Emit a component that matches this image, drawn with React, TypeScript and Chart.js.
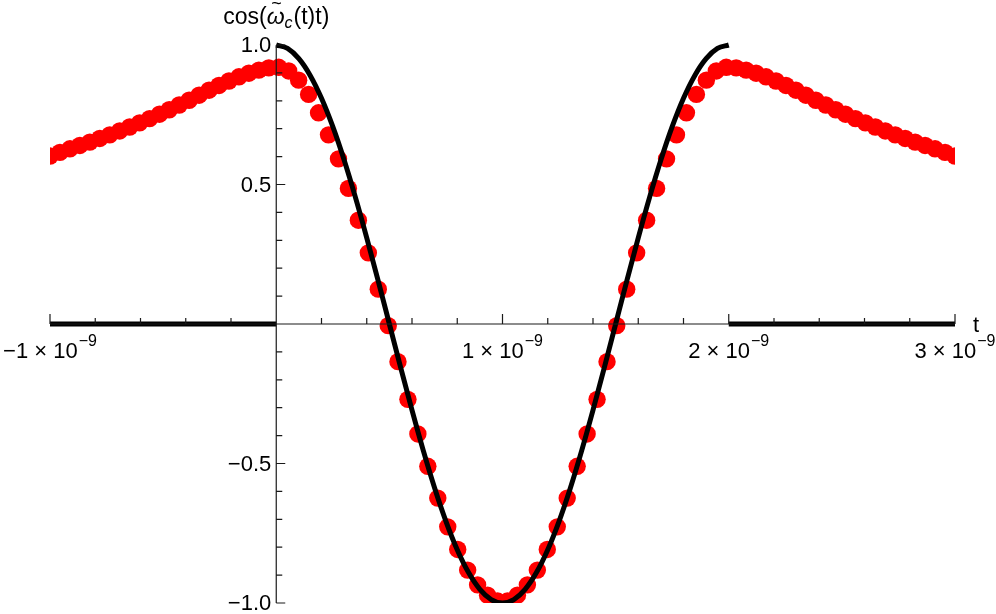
import { useEffect, useRef } from "react";
import { Chart, registerables } from "chart.js";
Chart.register(...registerables);

// time axis in units of 1e-9
const redT = [
  -1.0, -0.956, -0.912, -0.868, -0.824, -0.78, -0.736, -0.692, -0.648, -0.604,
  -0.56, -0.516, -0.473, -0.429, -0.385, -0.341, -0.297, -0.253, -0.209, -0.165,
  -0.121, -0.077, -0.033, 0.011, 0.055, 0.099, 0.143, 0.187, 0.231, 0.275,
  0.319, 0.363, 0.407, 0.451, 0.495, 0.538, 0.582, 0.626, 0.67, 0.714,
  0.758, 0.802, 0.846, 0.89, 0.934, 0.978, 1.022, 1.066, 1.11, 1.154,
  1.198, 1.242, 1.286, 1.33, 1.374, 1.418, 1.462, 1.505, 1.549, 1.593,
  1.637, 1.681, 1.725, 1.769, 1.813, 1.857, 1.901, 1.945, 1.989, 2.033,
  2.077, 2.121, 2.165, 2.209, 2.253, 2.297, 2.341, 2.385, 2.429, 2.473,
  2.516, 2.56, 2.604, 2.648, 2.692, 2.736, 2.78, 2.824, 2.868, 2.912,
  2.956, 3.0,
];
const redV = [
  0.602, 0.615, 0.628, 0.64, 0.652, 0.665, 0.678, 0.692, 0.706, 0.721,
  0.736, 0.752, 0.768, 0.785, 0.802, 0.82, 0.838, 0.855, 0.871, 0.886,
  0.899, 0.91, 0.918, 0.92, 0.907, 0.874, 0.823, 0.757, 0.678, 0.592,
  0.486, 0.372, 0.255, 0.125, -0.006, -0.135, -0.27, -0.394, -0.51, -0.624,
  -0.727, -0.808, -0.882, -0.935, -0.972, -0.993,
  -0.993, -0.972, -0.935, -0.882, -0.808, -0.727, -0.624, -0.51, -0.394, -0.27,
  -0.135, -0.006, 0.125, 0.255, 0.372, 0.486, 0.592, 0.678, 0.757, 0.823,
  0.874, 0.907, 0.92, 0.918, 0.91, 0.899, 0.886, 0.871, 0.855, 0.838,
  0.82, 0.802, 0.785, 0.768, 0.752, 0.736, 0.721, 0.706, 0.692, 0.678,
  0.665, 0.652, 0.64, 0.628, 0.615, 0.602,
];

const cosT = [
  0, 0.05, 0.1, 0.15, 0.2, 0.25, 0.3, 0.35, 0.4, 0.45, 0.5, 0.55, 0.6, 0.65,
  0.7, 0.75, 0.8, 0.85, 0.9, 0.95, 1.0, 1.05, 1.1, 1.15, 1.2, 1.25, 1.3, 1.35,
  1.4, 1.45, 1.5, 1.55, 1.6, 1.65, 1.7, 1.75, 1.8, 1.85, 1.9, 1.95, 2.0,
];
const cosV = [
  1, 0.9877, 0.9511, 0.891, 0.809, 0.7071, 0.5878, 0.454, 0.309, 0.1564, 0,
  -0.1564, -0.309, -0.454, -0.5878, -0.7071, -0.809, -0.891, -0.9511, -0.9877,
  -1, -0.9877, -0.9511, -0.891, -0.809, -0.7071, -0.5878, -0.454, -0.309,
  -0.1564, 0, 0.1564, 0.309, 0.454, 0.5878, 0.7071, 0.809, 0.891, 0.9511,
  0.9877, 1,
];
const zeroLeftT = [-1, 0];
const zeroLeftV = [0, 0];
const zeroRightT = [2, 3];
const zeroRightV = [0, 0];

const xMajorTicks = [-1, 1, 2, 3];
const xMajorMantissa = ["\u22121", "1", "2", "3"];
const xExponent = "\u22129";
const xMinorTicks = [
  -0.8, -0.6, -0.4, -0.2, 0.2, 0.4, 0.6, 0.8, 1.2, 1.4, 1.6, 1.8, 2.2, 2.4,
  2.6, 2.8,
];
const yMajorTicks = [1, 0.5, -0.5, -1];
const yMajorLabels = ["1.0", "0.5", "\u22120.5", "\u22121.0"];
const yMinorTicks = [
  0.9, 0.8, 0.7, 0.6, 0.4, 0.3, 0.2, 0.1, -0.1, -0.2, -0.3, -0.4, -0.6, -0.7,
  -0.8, -0.9,
];

const FONT = '"Liberation Sans", Arial, Helvetica, sans-serif';

const pts = (xs: number[], ys: number[]) => xs.map((x, i) => ({ x, y: ys[i] }));

const axesPlugin = {
  id: "mmaAxes",
  afterDatasetsDraw(chart: any) {
    const { ctx, chartArea, scales } = chart;
    const xs = scales.x;
    const ys = scales.y;
    const x0 = xs.getPixelForValue(0);
    const y0 = ys.getPixelForValue(0);
    ctx.save();
    ctx.strokeStyle = "#1a1a1a";
    ctx.lineWidth = 1.2;
    ctx.beginPath();
    ctx.moveTo(chartArea.left, y0);
    ctx.lineTo(chartArea.right, y0);
    ctx.moveTo(x0, chartArea.top);
    ctx.lineTo(x0, chartArea.bottom);
    for (const t of xMajorTicks) {
      const px = xs.getPixelForValue(t);
      ctx.moveTo(px, y0);
      ctx.lineTo(px, y0 - 10);
    }
    for (const t of xMinorTicks) {
      const px = xs.getPixelForValue(t);
      ctx.moveTo(px, y0);
      ctx.lineTo(px, y0 - 6);
    }
    for (const v of yMajorTicks) {
      const py = ys.getPixelForValue(v);
      ctx.moveTo(x0, py);
      ctx.lineTo(x0 + 9, py);
    }
    for (const v of yMinorTicks) {
      const py = ys.getPixelForValue(v);
      ctx.moveTo(x0, py);
      ctx.lineTo(x0 + 6, py);
    }
    ctx.stroke();

    ctx.fillStyle = "#000";
    ctx.font = `22px ${FONT}`;
    ctx.textAlign = "right";
    ctx.textBaseline = "middle";
    yMajorTicks.forEach((v, i) => {
      ctx.fillText(yMajorLabels[i], x0 - 5, ys.getPixelForValue(v) + 1);
    });

    ctx.textBaseline = "alphabetic";
    ctx.textAlign = "left";
    xMajorTicks.forEach((t, i) => {
      const main = `${xMajorMantissa[i]} \u00d7 10`;
      ctx.font = `22px ${FONT}`;
      const wMain = ctx.measureText(main).width;
      ctx.font = `16px ${FONT}`;
      const wExp = ctx.measureText(xExponent).width;
      const total = wMain + wExp + 1;
      const px = xs.getPixelForValue(t);
      const left = px - total / 2;
      const base = y0 + 34;
      ctx.font = `22px ${FONT}`;
      ctx.fillText(main, left, base);
      ctx.font = `16px ${FONT}`;
      ctx.fillText(xExponent, left + wMain + 1, base - 12);
    });

    ctx.font = `22px ${FONT}`;
    ctx.textAlign = "left";
    ctx.textBaseline = "alphabetic";
    ctx.fillText("t", chartArea.right + 18, y0 + 8);

    const partA = "cos(";
    const partW = "\u03c9";
    const partC = "c";
    const partB = "(t)t)";
    ctx.font = `23px ${FONT}`;
    const wA = ctx.measureText(partA).width;
    const wB = ctx.measureText(partB).width;
    ctx.font = `italic 23px ${FONT}`;
    const wW = ctx.measureText(partW).width;
    ctx.font = `italic 16px ${FONT}`;
    const wC = ctx.measureText(partC).width;
    const totalW = wA + wW + wC + 1 + wB;
    let cx = x0 - totalW / 2;
    const tb = 24;
    ctx.font = `23px ${FONT}`;
    ctx.fillText(partA, cx, tb);
    cx += wA;
    ctx.font = `italic 23px ${FONT}`;
    ctx.fillText(partW, cx, tb);
    ctx.font = `18px ${FONT}`;
    ctx.textAlign = "center";
    ctx.fillText("~", cx + wW / 2 + 1, tb - 15);
    ctx.textAlign = "left";
    cx += wW;
    ctx.font = `italic 16px ${FONT}`;
    ctx.fillText(partC, cx, tb + 4);
    cx += wC + 1;
    ctx.font = `23px ${FONT}`;
    ctx.fillText(partB, cx, tb);
    ctx.restore();
  },
};

export default function App() {
  const ref = useRef<HTMLCanvasElement | null>(null);
  useEffect(() => {
    if (!ref.current) return;
    const chart = new Chart(ref.current, {
      type: "scatter",
      data: {
        datasets: [
          {
            data: pts(cosT, cosV),
            showLine: true,
            borderColor: "#000",
            borderWidth: 5,
            pointRadius: 0,
            cubicInterpolationMode: "monotone",
            clip: { left: 0, top: 6, right: 6, bottom: 0 },
          } as any,
          {
            data: pts(zeroLeftT, zeroLeftV),
            showLine: true,
            borderColor: "#000",
            borderWidth: 5,
            borderCapStyle: "butt",
            pointRadius: 0,
            clip: 0,
          } as any,
          {
            data: pts(zeroRightT, zeroRightV),
            showLine: true,
            borderColor: "#000",
            borderWidth: 5,
            borderCapStyle: "butt",
            pointRadius: 0,
            clip: 0,
          } as any,
          {
            data: pts(redT, redV),
            showLine: false,
            pointRadius: 8.7,
            pointBorderWidth: 0,
            pointBackgroundColor: "#ff0000",
            pointBorderColor: "#ff0000",
            clip: { left: 0, top: 20, right: 0, bottom: 0 },
          } as any,
        ],
      },
      options: {
        responsive: false,
        animation: false,
        devicePixelRatio: 1,
        layout: { padding: { left: 50, right: 41, top: 45, bottom: 11 } },
        plugins: { legend: { display: false }, tooltip: { enabled: false } },
        events: [],
        scales: {
          x: { type: "linear", min: -1, max: 3, display: false },
          y: { type: "linear", min: -1, max: 1, display: false },
        },
      },
      plugins: [axesPlugin],
    });
    return () => chart.destroy();
  }, []);
  return (
    <div style={{ position: "absolute", left: 0, top: 0, width: 996, height: 614, background: "#fff" }}>
      <canvas ref={ref} width={996} height={614} style={{ display: "block" }} />
    </div>
  );
}
